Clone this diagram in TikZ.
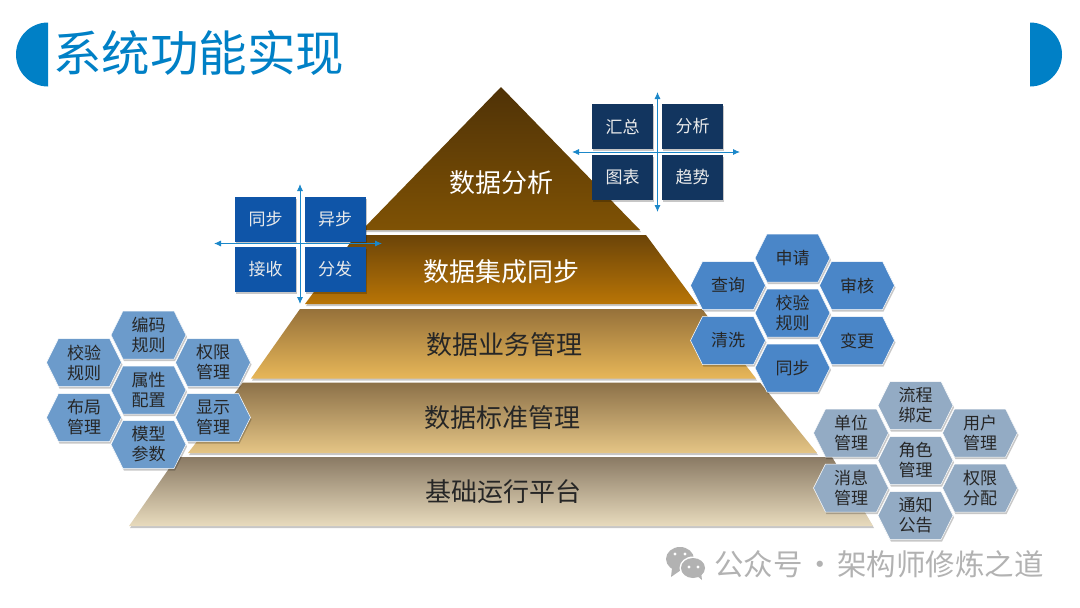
\documentclass[tikz,border=0pt]{standalone}
\usepackage{fontspec}
\setmainfont{Noto Sans CJK SC}
\usetikzlibrary{positioning,calc,shapes.symbols,shadows,arrows.meta}

\definecolor{titleblue}{HTML}{0080C6}
\definecolor{arrowblue}{HTML}{1B87C9}
\definecolor{darksq}{HTML}{12355F}
\definecolor{midsq}{HTML}{0F55A8}
\definecolor{hexleft}{HTML}{6C9BCB}
\definecolor{hexmid}{HTML}{4A86C8}
\definecolor{hexright}{HTML}{93ABC4}

\tikzset{
  softshadow/.style={drop shadow={shadow xshift=1pt,shadow yshift=-2pt,opacity=.22,fill=black}},
  hexcell/.style={shape=signal,signal to=east and west,signal pointer angle=127,
    minimum width=75pt,minimum height=48pt,inner sep=0pt,align=center,
    draw=white,line width=.5pt,softshadow,text=black!85,font=\fontsize{17}{20}\selectfont},
  hexl/.style={hexcell,fill=hexleft},
  hexm/.style={hexcell,fill=hexmid},
  hexr/.style={hexcell,fill=hexright},
  sqcell/.style={minimum width=61pt,minimum height=45pt,inner sep=0pt,softshadow,
    text=white!92!black,font=\fontsize{17}{21}\selectfont},
  sqdark/.style={sqcell,fill=darksq},
  sqmid/.style={sqcell,fill=midsq},
  layer/.style={softshadow},
  layertext/.style={font=\fontsize{26}{30}\selectfont},
  axis/.style={<->,>={Latex[length=7pt,width=6pt]},arrowblue,line width=.9pt},
}

\begin{document}
\begin{tikzpicture}[x=1pt,y=-1pt,on grid]
  \useasboundingbox (0,0) rectangle (1080,608);

  % title bar
  \fill[titleblue] (48,86.5) arc[start angle=90,end angle=270,radius=32] -- cycle;
  \fill[titleblue] (1030,86.5) arc[start angle=90,end angle=-90,radius=32] -- cycle;
  \node[text=titleblue,font=\fontsize{48.5}{50}\selectfont,anchor=west,inner sep=0pt] (title) at (53,53) {系统功能实现};

  % pyramid
  \shade[layer,top color={rgb,255:red,79;green,50;blue,6},bottom color={rgb,255:red,127;green,82;blue,5}]
    (501,87) -- (640,230) -- (362,230) -- cycle;
  \shade[layer,top color={rgb,255:red,107;green,68;blue,8},bottom color={rgb,255:red,185;green,117;blue,6}]
    (356,235) -- (646,235) -- (697,304) -- (305,304) -- cycle;
  \shade[layer,top color={rgb,255:red,150;green,113;blue,58},bottom color={rgb,255:red,231;green,182;blue,88}]
    (300,309) -- (702,309) -- (756,378.5) -- (251,378.5) -- cycle;
  \shade[layer,top color={rgb,255:red,140;green,113;blue,73},bottom color={rgb,255:red,229;green,197;blue,133}]
    (243,382.5) -- (760,382.5) -- (817,453) -- (188,453) -- cycle;
  \shade[layer,top color={rgb,255:red,138;green,122;blue,100},bottom color={rgb,255:red,232;green,219;blue,189}]
    (177,457) -- (832,457) -- (873,526) -- (129,526) -- cycle;

  \node[layertext,text=white] (analysis) at (501.5,183) {数据分析};
  \node[layertext,text=white] (sync) [below=89pt of analysis] {数据集成同步};
  \node[layertext,text=black!85] (business) [below=73pt of sync, xshift=3pt] {数据业务管理};
  \node[layertext,text=black!85] (standard) [below=73pt of business, xshift=-2pt] {数据标准管理};
  \node[layertext,text=black!85] (platform) [below=74pt of standard, xshift=1pt] {基础运行平台};

  % square groups
  \node[sqdark] (huizong) at (622.5,126.5) {汇总};
  \node[sqdark] (fenxi) [right=70pt of huizong] {分析};
  \node[sqdark] (tubiao) [below=51pt of huizong] {图表};
  \node[sqdark] (qushi) [right=70pt of tubiao] {趋势};
  \coordinate (rtop) at (657.5,92);
  \coordinate (rbot) at (657.5,212);
  \coordinate (rlft) at (572,152);
  \coordinate (rrgt) at (740,152);
  \draw[axis] (rtop) -- (rbot);
  \draw[axis] (rlft) -- (rrgt);

  \node[sqmid] (tongbu) at (265.5,219) {同步};
  \node[sqmid] (yibu) [right=69.5pt of tongbu] {异步};
  \node[sqmid] (jieshou) [below=50.5pt of tongbu] {接收};
  \node[sqmid] (fenfa) [right=69.5pt of jieshou] {分发};
  \coordinate (ltop) at (300,184);
  \coordinate (lbot) at (300,304);
  \coordinate (llft) at (214,243.5);
  \coordinate (lrgt) at (382,243.5);
  \draw[axis] (ltop) -- (lbot);
  \draw[axis] (llft) -- (lrgt);

  % left hexagons
  \node[hexl] (shuxing) at (148.5,390) {属性\\配置};
  \node[hexl] (bianma) [above=55pt of shuxing] {编码\\规则};
  \node[hexl] (moxing) [below=54.5pt of shuxing] {模型\\参数};
  \node[hexl] (jiaoyan) [above=27.5pt of shuxing, xshift=-64.5pt] {校验\\规则};
  \node[hexl] (buju) [below=27.5pt of shuxing, xshift=-64.5pt] {布局\\管理};
  \node[hexl] (quanxian) [above=27.5pt of shuxing, xshift=64.5pt] {权限\\管理};
  \node[hexl] (xianshi) [below=27.5pt of shuxing, xshift=64.5pt] {显示\\管理};

  % middle hexagons
  \node[hexm] (guize) at (792.5,313) {校验\\规则};
  \node[hexm] (shenqing) [above=55pt of guize] {申请};
  \node[hexm] (tongbu2) [below=55pt of guize] {同步};
  \node[hexm] (chaxun) [above=27.5pt of guize, xshift=-64.5pt] {查询};
  \node[hexm] (qingxi) [below=27.5pt of guize, xshift=-64.5pt] {清洗};
  \node[hexm] (shenhe) [above=27.5pt of guize, xshift=64.5pt] {审核};
  \node[hexm] (biangeng) [below=27.5pt of guize, xshift=64.5pt] {变更};

  % right hexagons
  \node[hexr] (jiaose) at (915.5,460.5) {角色\\管理};
  \node[hexr] (liucheng) [above=55pt of jiaose] {流程\\绑定};
  \node[hexr] (tongzhi) [below=55pt of jiaose] {通知\\公告};
  \node[hexr] (danwei) [above=27.5pt of jiaose, xshift=-64.5pt] {单位\\管理};
  \node[hexr] (xiaoxi) [below=27.5pt of jiaose, xshift=-64.5pt] {消息\\管理};
  \node[hexr] (yonghu) [above=27.5pt of jiaose, xshift=64.5pt] {用户\\管理};
  \node[hexr] (fenpei) [below=27.5pt of jiaose, xshift=64.5pt] {权限\\分配};

  % watermark
  \fill[black!30] (672,568) -- (671,577) -- (681,570) -- cycle;
  \fill[black!30] (680,559) ellipse[x radius=14,y radius=12];
  \fill[white] (693,568) ellipse[x radius=13.5,y radius=11.5];
  \fill[black!30] (693,568) ellipse[x radius=12,y radius=10];
  \fill[black!30] (696,575) -- (702,580) -- (701,572) -- cycle;
  \foreach \ex/\ey in {675/554,685/554,689/567,698/567}
    \fill[white] (\ex,\ey) circle[radius=1.6];
  \node[text=black!30,font=\fontsize{29.5}{32}\selectfont,anchor=west,inner sep=0pt] (mark) at (714,564) {公众号\hspace{2.5pt}·\hspace{2.5pt}架构师修炼之道};
\end{tikzpicture}
\end{document}
